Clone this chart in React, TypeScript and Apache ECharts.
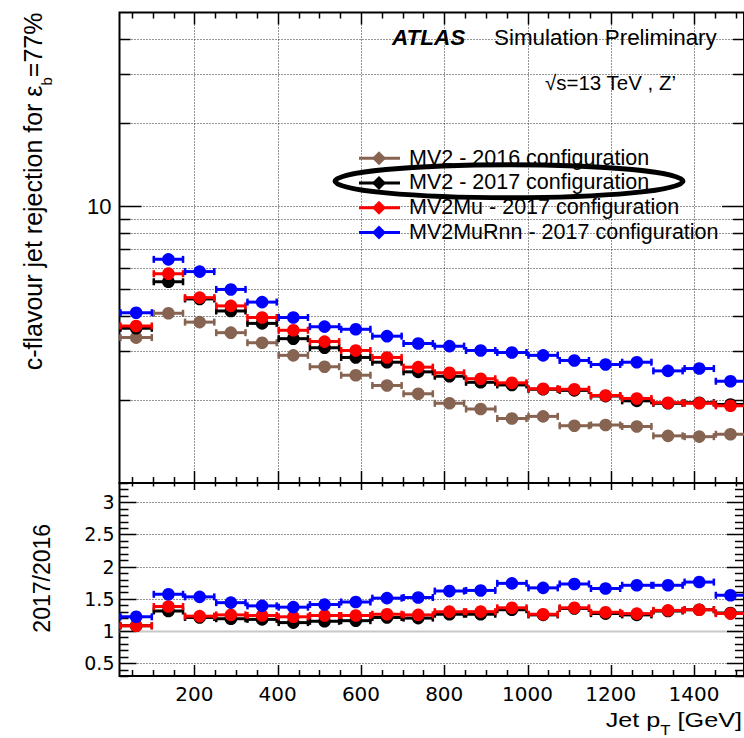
import React, { useEffect, useRef } from 'react';
import * as echarts from 'echarts';

// Jet pT binning [GeV]
const ptBinEdges = [20, 100, 175, 250, 325, 400, 475, 550, 625, 700, 775, 850, 925, 1000, 1075, 1150, 1225, 1300, 1375, 1450, 1525];

// c-flavour jet rejection at eps_b = 77%
const rejMV2_2016 = [3.35, 4.1, 3.81, 3.49, 3.21, 2.89, 2.63, 2.45, 2.25, 2.1, 1.94, 1.85, 1.71, 1.74, 1.61, 1.62, 1.6, 1.48, 1.47, 1.5];
const rejMV2_2017 = [3.62, 5.33, 4.62, 4.18, 3.77, 3.32, 3.08, 2.84, 2.73, 2.52, 2.43, 2.31, 2.26, 2.18, 2.16, 2.06, 1.98, 1.94, 1.95, 1.92];
const rejMV2Mu_2017 = [3.69, 5.7, 4.67, 4.36, 3.96, 3.56, 3.24, 3.01, 2.84, 2.62, 2.5, 2.38, 2.3, 2.19, 2.18, 2.07, 2.02, 1.95, 1.94, 1.9];
const rejMV2MuRnn_2017 = [4.12, 6.42, 5.8, 5.0, 4.5, 3.96, 3.67, 3.59, 3.39, 3.19, 3.12, 3.01, 2.96, 2.89, 2.77, 2.68, 2.73, 2.54, 2.59, 2.33];

// 2017 / 2016 rejection ratios
const ratioMV2_2017 = [1.08, 1.31, 1.21, 1.19, 1.18, 1.13, 1.15, 1.16, 1.21, 1.2, 1.26, 1.26, 1.33, 1.25, 1.35, 1.27, 1.25, 1.31, 1.33, 1.28];
const ratioMV2Mu_2017 = [1.08, 1.38, 1.23, 1.25, 1.24, 1.22, 1.24, 1.24, 1.26, 1.25, 1.3, 1.3, 1.36, 1.26, 1.36, 1.29, 1.27, 1.32, 1.33, 1.27];
const ratioMV2MuRnn_2017 = [1.22, 1.57, 1.53, 1.44, 1.39, 1.37, 1.41, 1.45, 1.51, 1.52, 1.62, 1.63, 1.74, 1.67, 1.73, 1.66, 1.71, 1.71, 1.76, 1.555];

// Axis ranges and tick labels
const ptAxisMin = 20;
const ptAxisMax = 1520;
const rejAxisMin = 1;
const rejAxisMax = 50;
const ratioAxisMin = 0.3;
const ratioAxisMax = 3.3;
const rejGridValues = [2, 3, 4, 5, 6, 7, 8, 9, 10, 20, 30, 40];
const ptLabelValues = [200, 400, 600, 800, 1000, 1200, 1400];
const ratioLabelValues = [0.5, 1, 1.5, 2, 2.5, 3];
const ratioGridValues = [0.5, 1.5, 2, 2.5, 3];

const legendEntries = [
  { label: 'MV2 - 2016 configuration', color: '#876452' },
  { label: 'MV2 - 2017 configuration', color: '#000000' },
  { label: 'MV2Mu - 2017 configuration', color: '#ff0000' },
  { label: 'MV2MuRnn - 2017 configuration', color: '#0000ff' },
];

const FONT = '"Liberation Sans", Arial, Helvetica, sans-serif';
const FONT_WIDE = '"DejaVu Sans", "Liberation Sans", sans-serif';

const ptMinorTicks = Array.from({ length: 30 }, (_, i) => 50 + i * 50);
const ratioMinorTicks = Array.from({ length: 31 }, (_, i) => Number((ratioAxisMin + i * 0.1).toFixed(1)));

const dotted = { stroke: '#2a2a2a', lineWidth: 1, lineDash: [1, 2] };
const tickStyle = { stroke: '#000', lineWidth: 1.5 };

const crisp = (v: number) => Math.round(v) + 0.5;

function binPoints(values: number[]) {
  return values.map((v, i) => [(ptBinEdges[i] + ptBinEdges[i + 1]) / 2, v, ptBinEdges[i], ptBinEdges[i + 1]]);
}

function errorBarSeries(name: string, color: string, values: number[], axisIndex: number, z: number) {
  return {
    type: 'custom',
    name,
    xAxisIndex: axisIndex,
    yAxisIndex: axisIndex,
    z,
    clip: true,
    data: binPoints(values),
    encode: { x: 0, y: 1 },
    renderItem: (_params: any, api: any) => {
      const val = api.value(1);
      const c = api.coord([api.value(0), val]);
      const l = api.coord([api.value(2), val]);
      const r = api.coord([api.value(3), val]);
      const y = c[1];
      return {
        type: 'group',
        children: [
          { type: 'line', shape: { x1: l[0], y1: y, x2: r[0], y2: y }, style: { stroke: color, lineWidth: 3 } },
          { type: 'line', shape: { x1: l[0] + 1, y1: y - 3.5, x2: l[0] + 1, y2: y + 3.5 }, style: { stroke: color, lineWidth: 2.5 } },
          { type: 'line', shape: { x1: r[0] - 1, y1: y - 3.5, x2: r[0] - 1, y2: y + 3.5 }, style: { stroke: color, lineWidth: 2.5 } },
          { type: 'circle', shape: { cx: c[0], cy: y, r: 6.3 }, style: { fill: color } },
        ],
      };
    },
  };
}

// Horizontal grid lines and y ticks (left and right frame)
function yGuideSeries(axisIndex: number, values: number[], isMajor: (v: number) => boolean, majorLen: number, minorLen: number, gridValues: number[], refLine?: number) {
  return {
    type: 'custom',
    xAxisIndex: axisIndex,
    yAxisIndex: axisIndex,
    z: 1,
    silent: true,
    data: values.map((v) => [ptAxisMin, v]),
    encode: { x: 0, y: 1 },
    renderItem: (params: any, api: any) => {
      const v = api.value(1);
      const cs = params.coordSys;
      const y = crisp(api.coord([ptAxisMin, v])[1]);
      const len = isMajor(v) ? majorLen : minorLen;
      const x0 = cs.x;
      const x1 = cs.x + cs.width;
      const children: any[] = [];
      if (gridValues.some((g) => Math.abs(g - v) < 1e-6)) {
        children.push({ type: 'line', shape: { x1: x0, y1: y, x2: x1, y2: y }, style: dotted });
      }
      if (refLine !== undefined && Math.abs(refLine - v) < 1e-6) {
        children.push({ type: 'line', shape: { x1: x0, y1: y, x2: x1, y2: y }, style: { stroke: '#c8c8c8', lineWidth: 2 } });
      }
      children.push({ type: 'line', shape: { x1: x0, y1: y, x2: x0 + len, y2: y }, style: tickStyle });
      children.push({ type: 'line', shape: { x1: x1 - len, y1: y, x2: x1, y2: y }, style: tickStyle });
      return { type: 'group', children };
    },
  };
}

// Vertical grid lines and x ticks (top and bottom frame)
function xGuideSeries(axisIndex: number, yRef: number, topLen: [number, number], bottomLen: [number, number], verticalGrid: boolean) {
  return {
    type: 'custom',
    xAxisIndex: axisIndex,
    yAxisIndex: axisIndex,
    z: 1,
    silent: true,
    data: ptMinorTicks.map((v) => [v, yRef]),
    encode: { x: 0, y: 1 },
    renderItem: (params: any, api: any) => {
      const v = api.value(0);
      const cs = params.coordSys;
      const x = crisp(api.coord([v, yRef])[0]);
      const major = v % 200 === 0;
      const tl = major ? topLen[0] : topLen[1];
      const bl = major ? bottomLen[0] : bottomLen[1];
      const y0 = cs.y;
      const y1 = cs.y + cs.height;
      const children: any[] = [];
      if (verticalGrid && major) {
        children.push({ type: 'line', shape: { x1: x, y1: y0, x2: x, y2: y1 }, style: dotted });
      }
      children.push({ type: 'line', shape: { x1: x, y1: y0, x2: x, y2: y0 + tl }, style: tickStyle });
      children.push({ type: 'line', shape: { x1: x, y1: y1 - bl, x2: x, y2: y1 }, style: tickStyle });
      return { type: 'group', children };
    },
  };
}

function buildOption() {
  const legendGraphics: any[] = [];
  legendEntries.forEach((e, i) => {
    const y = 158.3 + i * 24.7;
    legendGraphics.push({ type: 'line', shape: { x1: 359, y1: y, x2: 400, y2: y }, style: { stroke: e.color, lineWidth: 3 }, z: 50 });
    legendGraphics.push({ type: 'polygon', shape: { points: [[379, y - 7], [386, y], [379, y + 7], [372, y]] }, style: { fill: e.color }, z: 51 });
    legendGraphics.push({
      type: 'text', x: 409, y: y - 0.8, z: 52,
      style: { text: e.label, fontSize: 21.5, fontFamily: FONT, fill: '#000', verticalAlign: 'middle', align: 'left' },
    });
  });

  return {
    animation: false,
    backgroundColor: '#ffffff',
    grid: [
      { left: 119.5, top: 12.5, width: 628, height: 470.5, show: true, borderColor: '#000', borderWidth: 2, backgroundColor: 'transparent' },
      { left: 119.5, top: 483, width: 628, height: 193, show: true, borderColor: '#000', borderWidth: 2, backgroundColor: 'transparent' },
    ],
    xAxis: [
      {
        type: 'value', gridIndex: 0, min: ptAxisMin, max: ptAxisMax,
        axisLine: { show: false }, axisTick: { show: false }, splitLine: { show: false }, axisLabel: { show: false },
      },
      {
        type: 'value', gridIndex: 1, min: ptAxisMin, max: ptAxisMax,
        axisLine: { show: false }, axisTick: { show: false }, splitLine: { show: false },
        axisLabel: {
          show: true, customValues: ptLabelValues, color: '#000', fontSize: 20, fontFamily: FONT_WIDE, margin: 8,
          formatter: (v: number) => String(v),
        },
      },
    ],
    yAxis: [
      {
        type: 'log', logBase: 10, gridIndex: 0, min: rejAxisMin, max: rejAxisMax,
        axisLine: { show: false }, axisTick: { show: false }, splitLine: { show: false },
        axisLabel: {
          show: true, color: '#000', fontSize: 22, fontFamily: FONT, margin: 8,
          formatter: (v: number) => (Math.abs(v - 10) < 1e-6 ? '10' : ''),
        },
      },
      {
        type: 'value', gridIndex: 1, min: ratioAxisMin, max: ratioAxisMax,
        axisLine: { show: false }, axisTick: { show: false }, splitLine: { show: false },
        axisLabel: {
          show: true, customValues: ratioLabelValues, color: '#000', fontSize: 19, fontFamily: FONT_WIDE, margin: 5,
          formatter: (v: number) => String(v),
        },
      },
    ],
    graphic: [
      {
        type: 'text', x: 392, y: 37.8, z: 50,
        style: { text: 'ATLAS', fontSize: 22.5, fontWeight: 'bold', fontStyle: 'italic', fontFamily: FONT, fill: '#000', verticalAlign: 'middle' },
      },
      {
        type: 'text', x: 494, y: 37.8, z: 50,
        style: { text: 'Simulation Preliminary', fontSize: 22.4, fontFamily: FONT, fill: '#000', verticalAlign: 'middle' },
      },
      {
        type: 'text', x: 545, y: 82.5, z: 50,
        style: { text: '√s=13 TeV , Z’', fontSize: 20.5, fontFamily: FONT, fill: '#000', verticalAlign: 'middle' },
      },
      ...legendGraphics,
      {
        type: 'ellipse', z: 60,
        shape: { cx: 509, cy: 181.2, rx: 174, ry: 16.5 },
        style: { fill: 'none', stroke: '#000', lineWidth: 5 },
      },
      {
        type: 'text', x: 33, y: 12.5, rotation: Math.PI / 2, z: 50,
        style: {
          text: '{m|c-flavour jet rejection for ε}{s|b}{m|=77%}',
          align: 'right', verticalAlign: 'middle',
          rich: {
            m: { fontSize: 25, fontFamily: FONT, lineHeight: 42, verticalAlign: 'middle', fill: '#000', color: '#000' },
            s: { fontSize: 15, fontFamily: FONT, lineHeight: 15, verticalAlign: 'bottom', fill: '#000', color: '#000' },
          },
        },
      },
      {
        type: 'text', x: 41.7, y: 578.3, rotation: Math.PI / 2, z: 50,
        style: { text: '2017/2016', fontSize: 23, fontFamily: FONT, fill: '#000', align: 'center', verticalAlign: 'middle' },
      },
      {
        type: 'text', x: 742, y: 719.5, scaleX: 1.2, z: 50,
        style: {
          text: '{m|Jet p}{s|T}{m| [GeV]}',
          align: 'right', verticalAlign: 'middle',
          rich: {
            m: { fontSize: 21, fontFamily: FONT, lineHeight: 36, verticalAlign: 'middle', fill: '#000', color: '#000' },
            s: { fontSize: 14, fontFamily: FONT, lineHeight: 13, verticalAlign: 'bottom', fill: '#000', color: '#000' },
          },
        },
      },
    ],
    series: [
      yGuideSeries(0, rejGridValues, (v) => v === 10, 22, 11, rejGridValues),
      xGuideSeries(0, 10, [12, 6], [12, 6], true),
      yGuideSeries(1, ratioMinorTicks, (v) => Math.abs(v * 2 - Math.round(v * 2)) < 1e-6, 17, 9, ratioGridValues, 1),
      xGuideSeries(1, 1, [7, 3.5], [11, 6], false),

      errorBarSeries('MV2 - 2016 configuration', legendEntries[0].color, rejMV2_2016, 0, 3),
      errorBarSeries('MV2 - 2017 configuration', legendEntries[1].color, rejMV2_2017, 0, 4),
      errorBarSeries('MV2Mu - 2017 configuration', legendEntries[2].color, rejMV2Mu_2017, 0, 5),
      errorBarSeries('MV2MuRnn - 2017 configuration', legendEntries[3].color, rejMV2MuRnn_2017, 0, 6),

      errorBarSeries('MV2 - 2017 / 2016', legendEntries[1].color, ratioMV2_2017, 1, 4),
      errorBarSeries('MV2Mu - 2017 / 2016', legendEntries[2].color, ratioMV2Mu_2017, 1, 5),
      errorBarSeries('MV2MuRnn - 2017 / 2016', legendEntries[3].color, ratioMV2MuRnn_2017, 1, 6),
    ],
  };
}

export default function App() {
  const ref = useRef<HTMLDivElement>(null);
  useEffect(() => {
    if (!ref.current) return;
    const chart = echarts.init(ref.current, null, { renderer: 'svg' });
    chart.setOption(buildOption() as any);
    return () => {
      chart.dispose();
    };
  }, []);
  return (
    <div
      ref={ref}
      style={{ position: 'fixed', left: 0, top: 0, width: 744, height: 738, background: '#ffffff' }}
    />
  );
}
